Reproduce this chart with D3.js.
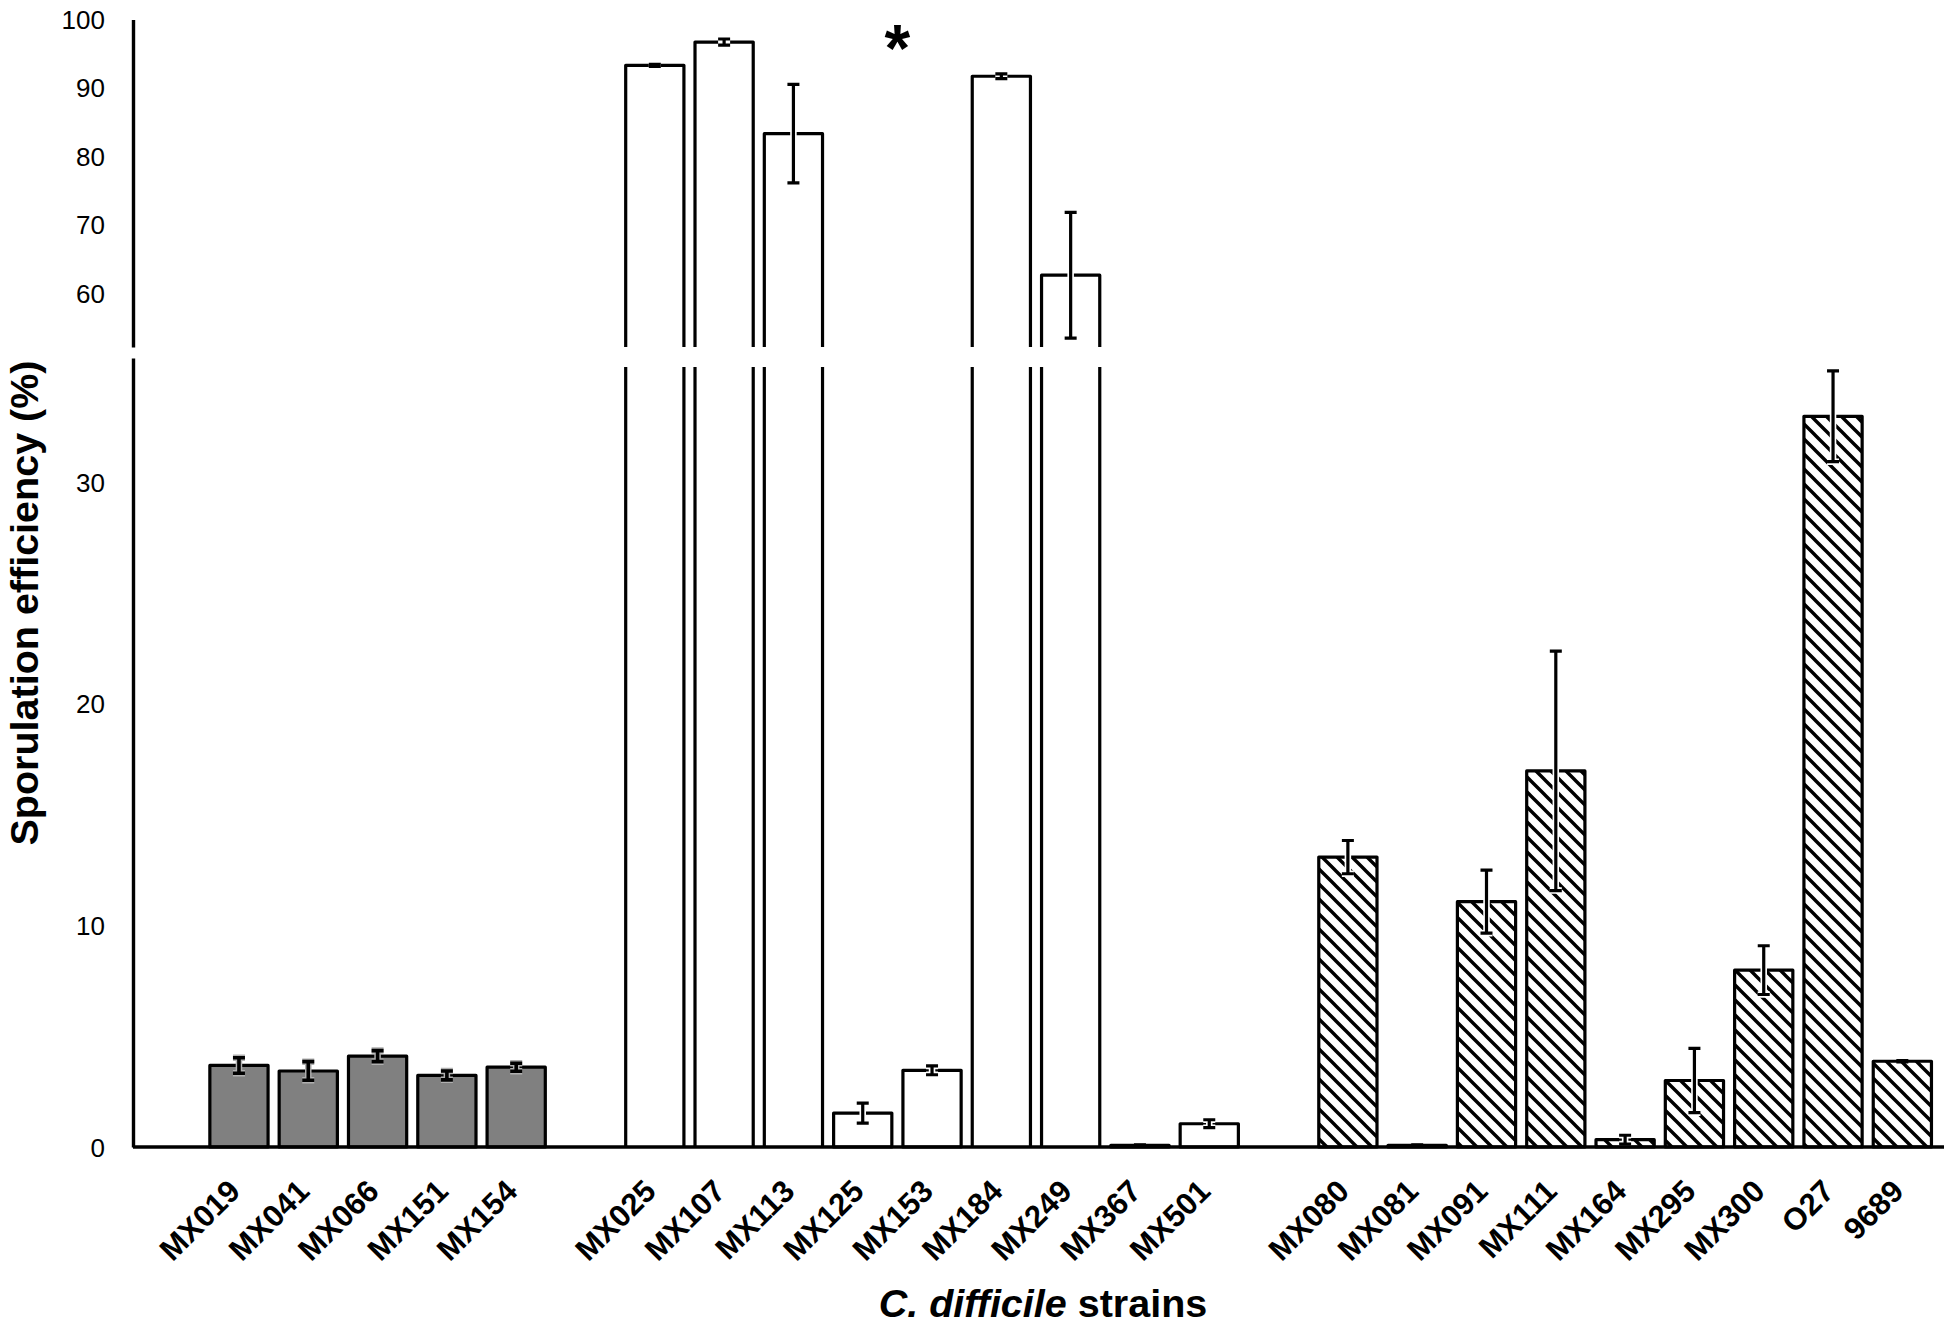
<!DOCTYPE html>
<html>
<head>
<meta charset="utf-8">
<script src="https://cdn.jsdelivr.net/npm/d3@7"></script>
<style>
  html, body { margin: 0; padding: 0; background: #fff; }
  svg { display: block; }
  text { font-family: "Liberation Sans", Arial, sans-serif; fill: #000; }
</style>
</head>
<body>
<svg id="chart" width="1950" height="1327"></svg>
<script>
// ---------------- data ----------------
const grayStrains  = ["MX019", "MX041", "MX066", "MX151", "MX154"];
const grayValues   = [3.68, 3.43, 4.10, 3.23, 3.60];
const grayErrors   = [0.35, 0.42, 0.25, 0.20, 0.18];

const whiteStrains = ["MX025", "MX107", "MX113", "MX125", "MX153", "MX184", "MX249", "MX367", "MX501"];
const whiteValues  = [93.3, 96.7, 83.3, 1.53, 3.46, 91.7, 62.6, 0.08, 1.05];
const whiteErrors  = [0.15, 0.45, 7.2, 0.45, 0.20, 0.35, 9.2, 0.02, 0.18];

const hatchStrains = ["MX080", "MX081", "MX091", "MX111", "MX164", "MX295", "MX300", "O27", "9689"];
const hatchValues  = [13.08, 0.08, 11.07, 16.97, 0.33, 3.00, 7.98, 32.97, 3.87];
const hatchErrors  = [0.75, 0.02, 1.42, 5.40, 0.20, 1.45, 1.10, 2.05, 0.03];

const gapSlots = ["gap0", "gap1", "gap2"];
const lowerTicks = [0, 10, 20, 30];
const upperTicks = [60, 70, 80, 90, 100];
const lowerDomain = [0, 35.6];
const upperDomain = [52.1, 100];
const starBetween = ["MX125", "MX153"];

// ---------------- layout ----------------
const svg = d3.select("#chart");
const axisX = 133;
const slotOrder = [gapSlots[0], ...grayStrains, gapSlots[1], ...whiteStrains, gapSlots[2], ...hatchStrains];

const x = d3.scaleBand().domain(slotOrder).range([135, 1937]).paddingInner(0.16).paddingOuter(0.08);
const yLow = d3.scaleLinear().domain(lowerDomain).range([1147, 358]);
const yUp  = d3.scaleLinear().domain(upperDomain).range([347, 19.5]);
const lowerBarTop = 367; // where broken bars resume in the lower panel

function rows(names, vals, errs, kind) {
  return names.map((n, i) => ({ name: n, value: vals[i], err: errs[i], kind }));
}
const data = [
  ...rows(grayStrains, grayValues, grayErrors, "gray"),
  ...rows(whiteStrains, whiteValues, whiteErrors, "white"),
  ...rows(hatchStrains, hatchValues, hatchErrors, "hatch")
];

// hatch pattern ("\" diagonal stripes)
const P = 15;
const defs = svg.append("defs");
const pat = defs.append("pattern").attr("id", "hatch")
  .attr("patternUnits", "userSpaceOnUse").attr("width", P).attr("height", P);
pat.append("rect").attr("width", P).attr("height", P).attr("fill", "#fff");
pat.append("path")
  .attr("d", `M-4,-4 L${P + 4},${P + 4} M-4,${P - 4} L4,${P + 4} M${P - 4},-4 L${P + 4},4`)
  .attr("stroke", "#000").attr("stroke-width", 3.4).attr("fill", "none");

const fills = { gray: "#808080", white: "#ffffff", hatch: "url(#hatch)" };
const SW = 3.2;

// ---------------- bars ----------------
const gBars = svg.append("g");
data.forEach(d => {
  const x0 = x(d.name), w = x.bandwidth();
  if (d.value <= lowerDomain[1]) {
    gBars.append("rect")
      .attr("x", x0).attr("y", yLow(d.value))
      .attr("width", w).attr("height", yLow(0) - yLow(d.value))
      .attr("fill", fills[d.kind]).attr("stroke", "#000").attr("stroke-width", SW)
      .attr("stroke-linejoin", "round");
  } else {
    // upper panel: open-bottom box
    const yb = yUp.range()[0], yt = yUp(d.value);
    gBars.append("rect").attr("x", x0).attr("y", yt).attr("width", w).attr("height", yb - yt)
      .attr("fill", fills[d.kind]);
    gBars.append("path")
      .attr("d", `M${x0},${yb} V${yt} H${x0 + w} V${yb}`)
      .attr("fill", "none").attr("stroke", "#000").attr("stroke-width", SW).attr("stroke-linejoin", "round");
    // lower panel: side lines only
    gBars.append("rect").attr("x", x0).attr("y", lowerBarTop).attr("width", w).attr("height", yLow(0) - lowerBarTop)
      .attr("fill", fills[d.kind]);
    gBars.append("path")
      .attr("d", `M${x0},${lowerBarTop} V${yLow(0)} M${x0 + w},${lowerBarTop} V${yLow(0)}`)
      .attr("fill", "none").attr("stroke", "#000").attr("stroke-width", SW);
  }
});

// ---------------- error bars ----------------
const gErr = svg.append("g");
const capW = 12;
data.forEach(d => {
  const y = d.value > lowerDomain[1] ? yUp : yLow;
  const cx = x(d.name) + x.bandwidth() / 2;
  const y1 = y(d.value + d.err), y2 = y(Math.max(0, d.value - d.err));
  const p = `M${cx},${y1} V${y2} M${cx - capW / 2},${y1} H${cx + capW / 2} M${cx - capW / 2},${y2} H${cx + capW / 2}`;
  if (d.err > 0.1) {
    gErr.append("path").attr("d", p).attr("fill", "none").attr("stroke", d.kind === "gray" ? "#b0b0b0" : "#fff")
      .attr("stroke-width", 6.5).attr("stroke-linecap", "butt");
  }
  gErr.append("path").attr("d", p).attr("fill", "none").attr("stroke", "#000")
    .attr("stroke-width", d.kind === "gray" ? 3.6 : 3.2).attr("stroke-linecap", "butt");
});

// ---------------- axes ----------------
const lowAxis = svg.append("g").attr("transform", `translate(${axisX},0)`)
  .call(d3.axisLeft(yLow).tickValues(lowerTicks).tickSize(0).tickSizeOuter(0).tickPadding(28));
const upAxis = svg.append("g").attr("transform", `translate(${axisX},0)`)
  .call(d3.axisLeft(yUp).tickValues(upperTicks).tickSize(0).tickSizeOuter(0).tickPadding(28));
[lowAxis, upAxis].forEach(a => {
  a.select(".domain").attr("stroke", "#000").attr("stroke-width", 3.4);
  a.selectAll(".tick text").attr("font-size", 26).attr("font-family", "Liberation Sans, Arial, sans-serif")
    .attr("fill", "#000").attr("dy", "0.35em");
});

// baseline
svg.append("line")
  .attr("x1", axisX).attr("x2", x.range()[1] + 7)
  .attr("y1", yLow(0)).attr("y2", yLow(0))
  .attr("stroke", "#000").attr("stroke-width", 3.4);

// x labels
const xAxis = svg.append("g").attr("transform", `translate(0,${yLow(0)})`)
  .call(d3.axisBottom(x).tickValues(slotOrder.filter(s => !gapSlots.includes(s))).tickSize(0));
xAxis.select(".domain").remove();
xAxis.selectAll(".tick text")
  .attr("x", 0).attr("y", 0).attr("dy", 0)
  .attr("transform", "translate(3,46) rotate(-45)")
  .style("text-anchor", "end")
  .attr("font-size", 31).attr("font-weight", "bold")
  .attr("font-family", "Liberation Sans, Arial, sans-serif").attr("fill", "#000");

// asterisk
svg.append("text")
  .attr("x", x(starBetween[1]) - x.step() * x.paddingInner() / 2)
  .attr("y", 71)
  .attr("text-anchor", "middle")
  .attr("font-size", 66).attr("font-weight", "bold")
  .text("*");

// axis titles
svg.append("text")
  .attr("transform", "translate(38,603) rotate(-90)")
  .attr("text-anchor", "middle")
  .attr("font-size", 39.5).attr("font-weight", "bold")
  .text("Sporulation efficiency (%)");

const xt = svg.append("text")
  .attr("x", (axisX + x.range()[1]) / 2 + 8).attr("y", 1317)
  .attr("text-anchor", "middle")
  .attr("font-size", 39.5).attr("font-weight", "bold");
xt.append("tspan").attr("font-style", "italic").text("C. difficile");
xt.append("tspan").text(" strains");
</script>
</body>
</html>
